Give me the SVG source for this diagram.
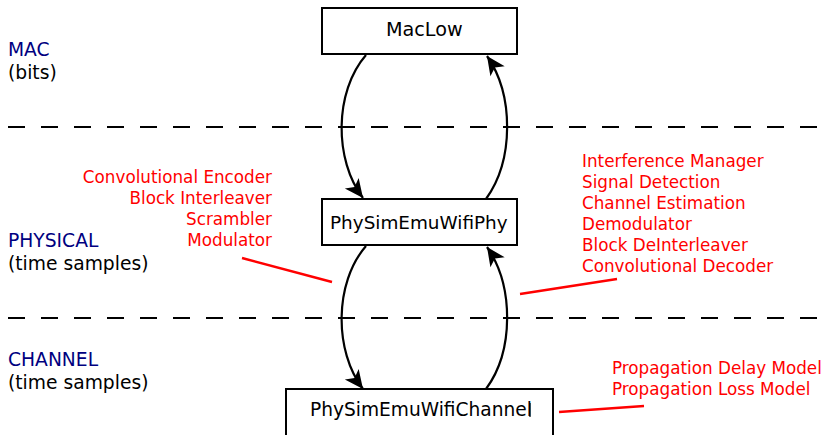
<svg xmlns="http://www.w3.org/2000/svg" width="825" height="435" viewBox="0 0 825 435">
<style>
text{font-family:"DejaVu Sans","Liberation Sans",sans-serif}
.layer{fill:#000080;font-size:18.7px}
.sub{fill:#000;font-size:18.7px}
.box{fill:#fff;stroke:#000;stroke-width:2}
.lbl{fill:#000;font-size:18.4px}
.red{fill:#ff0000;font-size:16.8px}
.dash{stroke:#000;stroke-width:2.2;stroke-dasharray:17 16;fill:none}
.conn{stroke:#000;stroke-width:2.2;fill:none;marker-end:url(#ah)}
.rl{stroke:#ff0000;stroke-width:2.5;fill:none}
</style>
<defs>
<marker id="ah" markerUnits="userSpaceOnUse" markerWidth="22" markerHeight="22" viewBox="-18 -9 19 18" refX="0" refY="0" orient="auto">
<path d="M0,0 L-16,-7.5 L-12,0 L-16,7.5 Z" fill="#000"/>
</marker>
</defs>
<rect width="825" height="435" fill="#fff"/>
<g id="layers">
<line class="dash" x1="8" y1="127" x2="825" y2="127"/>
<line class="dash" x1="8" y1="318" x2="825" y2="318"/>
<text class="layer" x="8" y="56">MAC</text>
<text class="sub" x="8" y="79">(bits)</text>
<text class="layer" x="8" y="247">PHYSICAL</text>
<text class="sub" x="8" y="270">(time samples)</text>
<text class="layer" x="8" y="366">CHANNEL</text>
<text class="sub" x="8" y="389">(time samples)</text>
</g>
<g id="connectors">
<path class="conn" d="M366,55 C334,92 334,160 363,198"/>
<path class="conn" d="M486,199 C514,160 514,95 487,56"/>
<path class="conn" d="M366,246 C334,283 334,351 363,389"/>
<path class="conn" d="M486,389 C514,351 514,286 487,247"/>
<line class="rl" x1="242" y1="258" x2="332" y2="282"/>
<line class="rl" x1="520" y1="294" x2="617" y2="279"/>
<line class="rl" x1="559" y1="412" x2="644" y2="406"/>
</g>
<g id="MacLow">
<rect class="box" x="322" y="8" width="195" height="46"/>
<text class="lbl" x="386" y="36" style="font-size:19.2px">MacLow</text>
</g>
<g id="PhySimEmuWifiPhy">
<rect class="box" x="322" y="199" width="195" height="46"/>
<text class="lbl" x="330" y="229">PhySimEmuWifiPhy</text>
</g>
<g id="PhySimEmuWifiChannel">
<rect class="box" x="286" y="389" width="267" height="60"/>
<text class="lbl" x="310" y="416" style="font-size:18.6px">PhySimEmuWifiChannel</text>
<line x1="530" y1="403" x2="530" y2="417" stroke="#000" stroke-width="1.2"/>
</g>
<g id="tx-notes">
<text class="red" text-anchor="end" x="272" y="183">Convolutional Encoder</text>
<text class="red" text-anchor="end" x="272" y="204">Block Interleaver</text>
<text class="red" text-anchor="end" x="272" y="225">Scrambler</text>
<text class="red" text-anchor="end" x="272" y="246">Modulator</text>
</g>
<g id="rx-notes">
<text class="red" x="582" y="167">Interference Manager</text>
<text class="red" x="582" y="188">Signal Detection</text>
<text class="red" x="582" y="209">Channel Estimation</text>
<text class="red" x="582" y="230">Demodulator</text>
<text class="red" x="582" y="251">Block DeInterleaver</text>
<text class="red" x="582" y="272">Convolutional Decoder</text>
</g>
<g id="channel-notes">
<text class="red" x="612" y="374">Propagation Delay Model</text>
<text class="red" x="612" y="395">Propagation Loss Model</text>
</g>
</svg>
